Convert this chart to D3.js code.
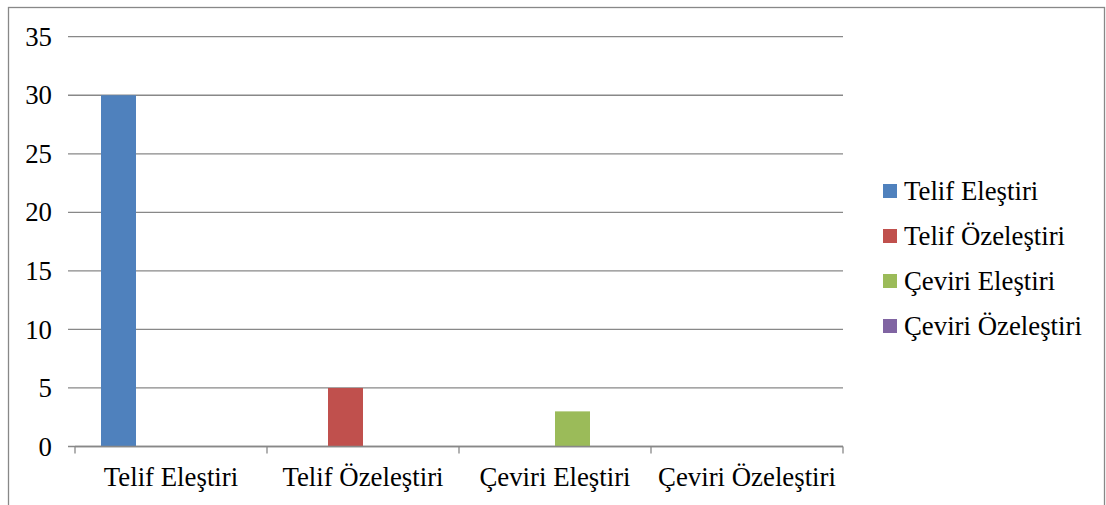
<!DOCTYPE html>
<html>
<head>
<meta charset="utf-8">
<script src="https://cdn.jsdelivr.net/npm/d3@7"></script>
<style>
  body { margin: 0; background: #fff; }
  svg text { font-family: 'Liberation Serif', 'Times New Roman', Times, serif; fill: #000; }
</style>
</head>
<body>
<svg width="1106" height="505"></svg>
<script>
const categories = ['Telif Eleştiri', 'Telif Özeleştiri', 'Çeviri Eleştiri', 'Çeviri Özeleştiri'];
const seriesNames = ['Telif Eleştiri', 'Telif Özeleştiri', 'Çeviri Eleştiri', 'Çeviri Özeleştiri'];
const seriesColors = ['#4f81bd', '#c0504d', '#9bbb59', '#8064a2'];
// values[series][category]
const values = [
    [30, 0, 0, 0],
    [0, 5, 0, 0],
    [0, 0, 3, 0],
    [0, 0, 0, 0]
];
const yTicks = [0, 5, 10, 15, 20, 25, 30, 35];

const svg = d3.select('svg'),
    width = +svg.attr('width'),
    height = +svg.attr('height');

const margin = {left: 75, right: 263, top: 36.7, bottom: 58.5};
const gridColor = '#888888';
const fontFamily = "'Liberation Serif', 'Times New Roman', Times, serif";
const fontSize = 26.8;

// outer frame
svg.append('rect')
    .attr('x', 8.5)
    .attr('y', 7.5)
    .attr('width', 1096)
    .attr('height', 520)
    .attr('fill', 'none')
    .attr('stroke', gridColor)
    .attr('stroke-width', 1.3);

const x0 = d3.scaleBand()
    .domain(categories)
    .range([margin.left, width - margin.right]);

const x1 = d3.scaleBand()
    .domain(seriesNames)
    .range([0, x0.bandwidth()])
    .paddingInner(0)
    .paddingOuter((x0.bandwidth() / 35 - 4) / 2);

const y = d3.scaleLinear()
    .domain([0, 35])
    .range([height - margin.bottom, margin.top]);

const color = d3.scaleOrdinal(seriesNames, seriesColors);

// gridlines + y labels
const grid = svg.append('g').attr('class', 'grid');
grid.selectAll('line')
    .data(yTicks)
    .enter()
    .append('line')
    .attr('x1', margin.left - 7)
    .attr('x2', width - margin.right)
    .attr('y1', d => y(d))
    .attr('y2', d => y(d))
    .attr('stroke', gridColor)
    .attr('stroke-width', 1.3);

grid.selectAll('text')
    .data(yTicks)
    .enter()
    .append('text')
    .attr('x', 52)
    .attr('y', d => y(d))
    .attr('dy', '0.34em')
    .attr('text-anchor', 'end')
    .attr('font-family', fontFamily)
    .attr('font-size', fontSize)
    .text(d => d);

// bars
const flat = [];
seriesNames.forEach((s, si) => {
    categories.forEach((c, ci) => {
        flat.push({series: s, category: c, value: values[si][ci]});
    });
});

svg.append('g')
    .attr('class', 'bars')
    .selectAll('rect')
    .data(flat.filter(d => d.value > 0))
    .enter()
    .append('rect')
    .attr('x', d => x0(d.category) + x1(d.series))
    .attr('y', d => y(d.value))
    .attr('width', x1.bandwidth())
    .attr('height', d => y(0) - y(d.value))
    .attr('fill', d => color(d.series));

// x axis
const xAxis = svg.append('g').attr('class', 'x-axis');
xAxis.append('line')
    .attr('x1', margin.left)
    .attr('x2', width - margin.right)
    .attr('y1', y(0))
    .attr('y2', y(0))
    .attr('stroke', gridColor)
    .attr('stroke-width', 1.3);

const tickXs = categories.map(c => x0(c)).concat([x0.range()[1]]);
xAxis.selectAll('.tick')
    .data(tickXs)
    .enter()
    .append('line')
    .attr('class', 'tick')
    .attr('x1', d => d)
    .attr('x2', d => d)
    .attr('y1', y(0))
    .attr('y2', y(0) + 7)
    .attr('stroke', gridColor)
    .attr('stroke-width', 1.3);

xAxis.selectAll('text')
    .data(categories)
    .enter()
    .append('text')
    .attr('x', d => x0(d) + x0.bandwidth() / 2)
    .attr('y', 486)
    .attr('text-anchor', 'middle')
    .attr('font-family', fontFamily)
    .attr('font-size', fontSize)
    .text(d => d);

// legend
const legend = svg.append('g')
    .attr('class', 'legend')
    .attr('transform', 'translate(883,191)');

const item = legend.selectAll('g')
    .data(seriesNames)
    .enter()
    .append('g')
    .attr('transform', (d, i) => `translate(0,${i * 45})`);

item.append('rect')
    .attr('x', 0)
    .attr('y', -7)
    .attr('width', 14)
    .attr('height', 14)
    .attr('fill', d => color(d));

item.append('text')
    .attr('x', 21)
    .attr('y', 0)
    .attr('dy', '0.34em')
    .attr('font-family', fontFamily)
    .attr('font-size', fontSize)
    .text(d => d);
</script>
</body>
</html>
